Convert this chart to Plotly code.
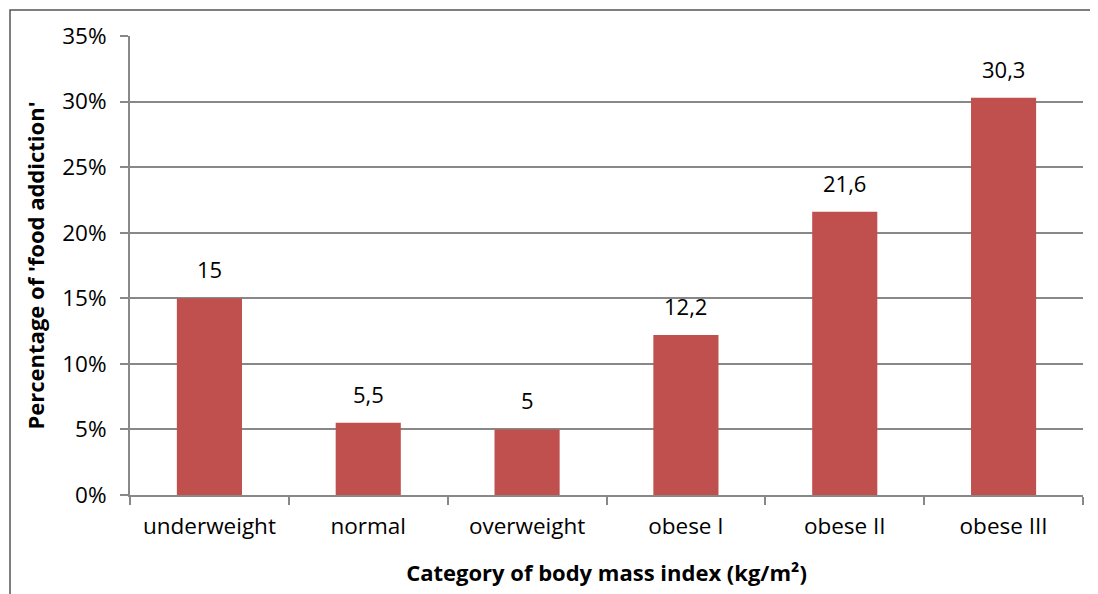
import plotly.graph_objects as go

categories = ["underweight", "normal", "overweight", "obese I", "obese II", "obese III"]
values = [15.0, 5.5, 5.0, 12.2, 21.6, 30.3]
labels = ["15", "5,5", "5", "12,2", "21,6", "30,3"]
y_ticks = [0, 5, 10, 15, 20, 25, 30, 35]
y_tick_text = ["0%", "5%", "10%", "15%", "20%", "25%", "30%", "35%"]

FONT = "Open Sans"
GRID = "#888888"

# page body has an 8px margin, so the figure is drawn shifted by (8, 8)
W, H = 1090, 586
L, R, T, B = 122, 15, 27, 97

fig = go.Figure(go.Bar(
    x=categories, y=values,
    marker=dict(color="#C0504D", line=dict(width=0)),
))

for c, v, t in zip(categories, values, labels):
    fig.add_annotation(x=c, y=v, text=t, showarrow=False, yanchor="bottom",
                       yshift=12, font=dict(family=FONT, size=22, color="#000000"))

plot_w = W - L - R
plot_h = H - T - B
# frame: left edge at page x=10, top edge at page y≈8.5
fx0 = (10 - 8 - L) / plot_w
fy1 = (8 + H - B - 8.8) / plot_h

fig.update_layout(
    width=W, height=H,
    margin=dict(l=L, r=R, t=T, b=B),
    paper_bgcolor="white", plot_bgcolor="white",
    bargap=0.59, showlegend=False,
    font=dict(family=FONT, size=22, color="#000000"),
    shapes=[dict(type="rect", xref="paper", yref="paper",
                 x0=fx0, x1=1.3, y0=-0.5, y1=fy1,
                 line=dict(color="#555555", width=1.5), layer="below")],
)
fig.update_xaxes(
    type="category", showline=True, linecolor=GRID, linewidth=2,
    ticks="outside", tickson="boundaries", ticklen=8, tickcolor=GRID, tickwidth=2,
    ticklabelstandoff=10,
    tickfont=dict(family=FONT, size=22.5),
    title=dict(text="<b>Category of body mass index (kg/m²)</b>", font=dict(family=FONT, size=22), standoff=26),
    showgrid=False,
)
fig.update_yaxes(
    range=[0, 35], tickmode="array", tickvals=y_ticks, ticktext=y_tick_text,
    showline=True, linecolor=GRID, linewidth=2,
    ticks="outside", ticklen=8, tickcolor=GRID, tickwidth=2,
    ticklabelstandoff=9,
    showgrid=True, gridcolor=GRID, gridwidth=2, zeroline=False,
    tickfont=dict(family=FONT, size=22.5),
    title=dict(text="<b>Percentage of 'food addiction'</b>", font=dict(family=FONT, size=22), standoff=11),
)

fig.write_html("out.html")
